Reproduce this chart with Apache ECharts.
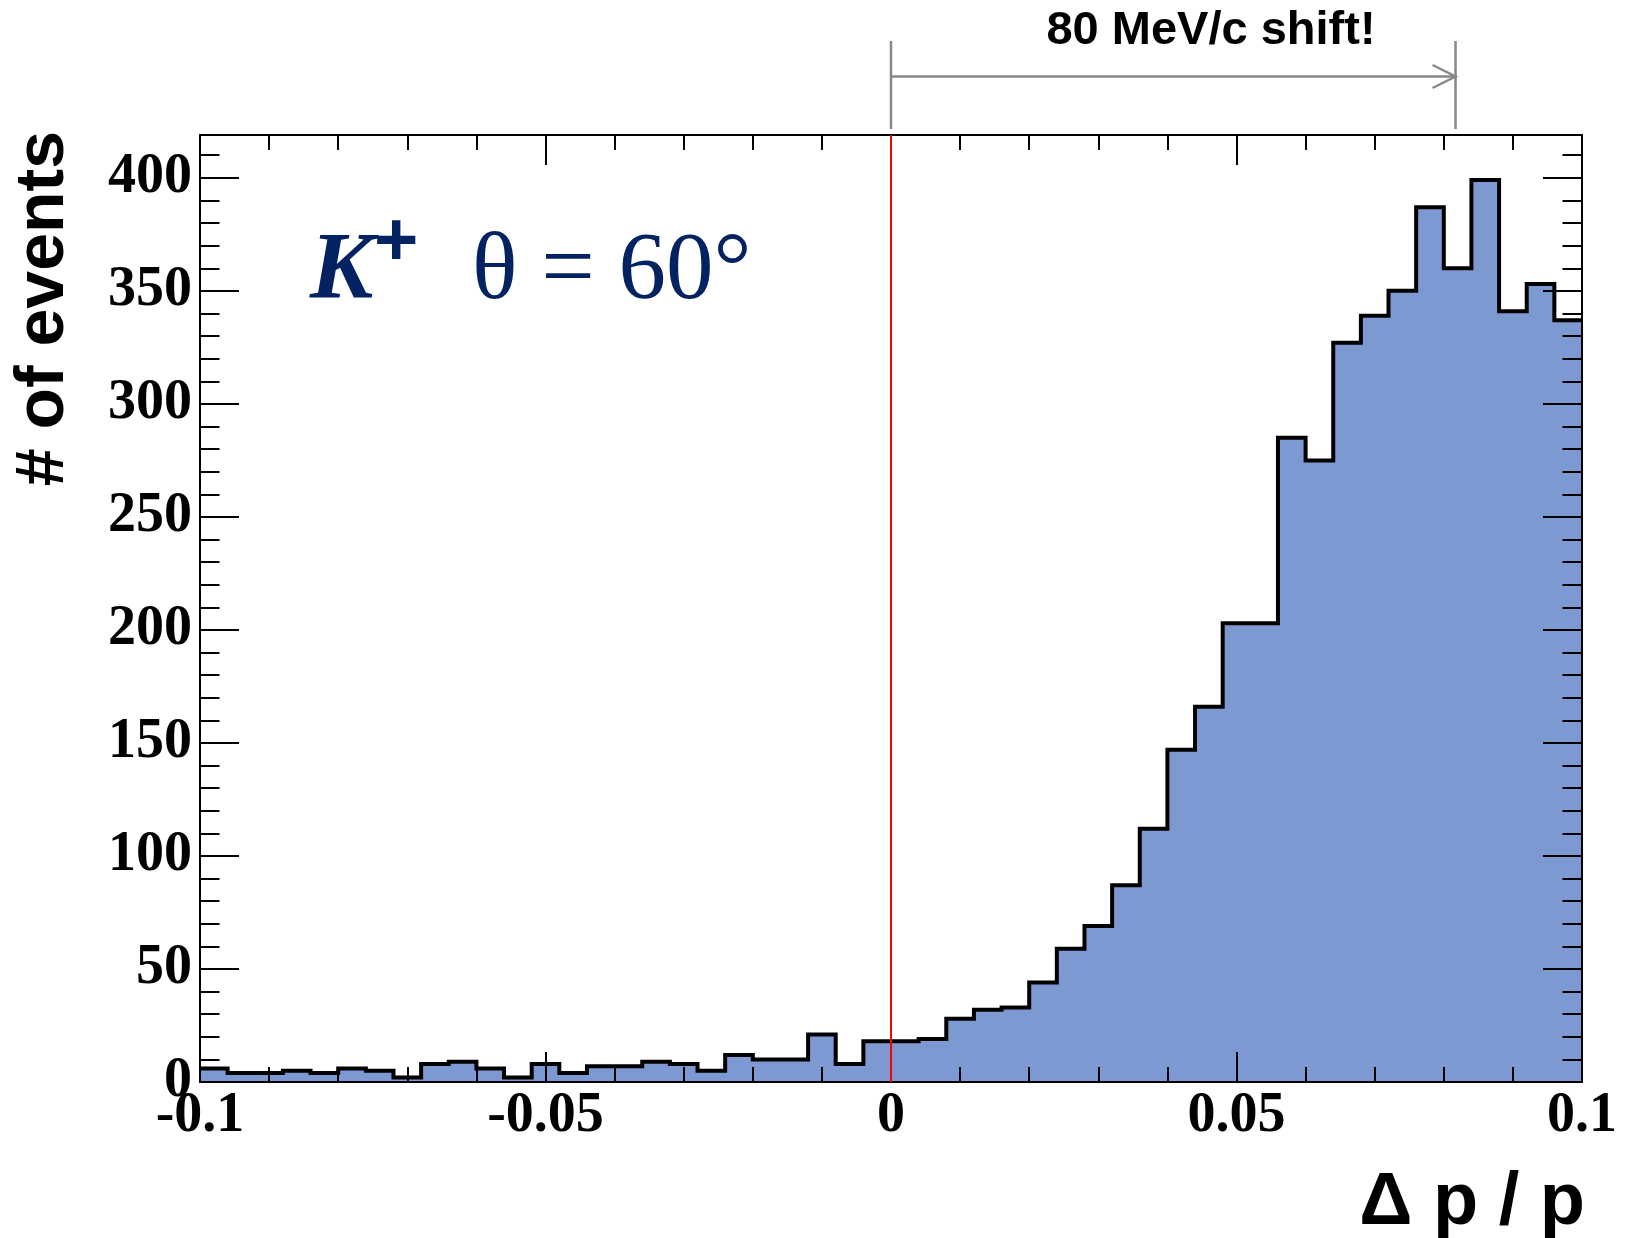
<!DOCTYPE html>
<html>
<head>
<meta charset="utf-8">
<script src="https://cdn.jsdelivr.net/npm/echarts@6/dist/echarts.min.js"></script>
<style>
html,body{margin:0;padding:0;background:#ffffff;}
#chart{width:1625px;height:1238px;}
</style>
</head>
<body>
<div id="chart"></div>
<script>
// ---- data ----
const binLowEdges = [-0.1,-0.096,-0.092,-0.088,-0.084,-0.08,-0.076,-0.072,-0.068,-0.064,
  -0.06,-0.056,-0.052,-0.048,-0.044,-0.04,-0.036,-0.032,-0.028,-0.024,
  -0.02,-0.016,-0.012,-0.008,-0.004,0,0.004,0.008,0.012,0.016,
  0.02,0.024,0.028,0.032,0.036,0.04,0.044,0.048,0.052,0.056,
  0.06,0.064,0.068,0.072,0.076,0.08,0.084,0.088,0.092,0.096];
const lastBinHighEdge = 0.1;
const eventCounts = [6,4,4,5,4,6,5,2,8,9,
  6,2,8,4,7,7,9,8,5,12,
  10,10,21,8,18,18,19,28,32,33,
  44,59,69,87,112,147,166,203,203,285,
  275,327,339,350,387,360,399,341,353,337];
const xTickLabels = [-0.1,-0.05,0,0.05,0.1];
const yTickLabels = [0,50,100,150,200,250,300,350,400];
const xRange = [-0.1, 0.1];
const yRange = [0, 418.95];
const zeroLine = 0;
const shiftArrow = [0, 0.0817];   // from x=0 to the shifted position
const titleText = '80 MeV/c shift!';
const yTitle = '# of events';
const xTitle = '\u0394 p / p';

// ---- build ----
const pts = binLowEdges.map((x, i) => [x, eventCounts[i]]);
pts.push([lastBinHighEdge, eventCounts[eventCounts.length - 1]]);

const chart = echarts.init(document.getElementById('chart'), null, {renderer: 'canvas'});

const labelFont = {fontFamily: 'Liberation Serif', fontWeight: 'bold', fontSize: 56, color: '#000'};
const black2 = {color: '#000', width: 2};

function xAx(pos, showLabel) {
  return {
    type: 'value', min: xRange[0], max: xRange[1],
    interval: xTickLabels[1] - xTickLabels[0],
    position: pos, z: 5,
    axisLine: {show: true, onZero: false, lineStyle: black2},
    axisTick: {show: true, inside: true, length: 30, lineStyle: black2},
    minorTick: {show: true, splitNumber: 5, length: 15, lineStyle: black2},
    splitLine: {show: false}, minorSplitLine: {show: false},
    axisLabel: Object.assign({show: showLabel, margin: 7}, labelFont)
  };
}
function yAx(pos, major, showLabel) {
  return {
    type: 'value', min: yRange[0], max: yRange[1],
    interval: major ? (yTickLabels[1] - yTickLabels[0]) : (yTickLabels[1] - yTickLabels[0]) / 5,
    position: pos, z: 5,
    axisLine: {show: major, onZero: false, lineStyle: black2},
    axisTick: {show: true, inside: true, length: major ? 39 : 19.5, lineStyle: black2},
    splitLine: {show: false},
    axisLabel: Object.assign({show: showLabel, margin: 8, showMaxLabel: false}, labelFont)
  };
}

chart.setOption({
  animation: false,
  backgroundColor: '#ffffff',
  grid: {left: 200, right: 43, top: 135, bottom: 156, containLabel: false},
  xAxis: [xAx('bottom', true), xAx('top', false)],
  yAxis: [yAx('left', true, true), yAx('left', false, false), yAx('right', true, false), yAx('right', false, false)],
  series: [{
    type: 'line',
    xAxisIndex: 0, yAxisIndex: 0,
    step: 'end',
    symbol: 'none',
    data: pts,
    z: 2,
    emphasis: {disabled: true},
    lineStyle: {color: '#000', width: 4, join: 'miter'},
    areaStyle: {color: '#7d99d1', opacity: 1, origin: 'start'}
  }]
});

// annotations positioned through the axis scales
const xa = chart.convertToPixel({xAxisIndex: 0}, shiftArrow[0]);
const xb = chart.convertToPixel({xAxisIndex: 0}, shiftArrow[1]);
const zx = chart.convertToPixel({xAxisIndex: 0}, zeroLine);
const yBot = chart.convertToPixel({yAxisIndex: 0}, yRange[0]);
const yTop = chart.convertToPixel({yAxisIndex: 0}, yRange[1]);
const gray = '#888888';
const navy = '#032262';
chart.setOption({
  graphic: [
    {type: 'line', z: 50, shape: {x1: zx, y1: yBot, x2: zx, y2: yTop}, style: {stroke: '#ff0000', lineWidth: 2}},
    {type: 'line', z: 100, shape: {x1: xa, y1: 41, x2: xa, y2: 129}, style: {stroke: gray, lineWidth: 2.5}},
    {type: 'line', z: 100, shape: {x1: xb, y1: 41, x2: xb, y2: 129}, style: {stroke: gray, lineWidth: 2.5}},
    {type: 'line', z: 100, shape: {x1: xa, y1: 76.5, x2: xb, y2: 76.5}, style: {stroke: gray, lineWidth: 2.5}},
    {type: 'polyline', z: 100, shape: {points: [[xb - 23, 65], [xb, 76.5], [xb - 23, 88]]}, style: {stroke: gray, lineWidth: 2.5, fill: null}},
    {type: 'text', z: 100, x: 1211, y: 31, style: {text: titleText, font: 'bold 47px "Liberation Sans", Arial, sans-serif', fill: '#000', align: 'center', verticalAlign: 'middle'}},
    {type: 'text', z: 100, x: 44, y: 131, rotation: Math.PI / 2, style: {text: yTitle, font: 'bold 68px "Liberation Sans", Arial, sans-serif', fill: '#000', align: 'right', verticalAlign: 'middle'}},
    {type: 'text', z: 100, x: 1585, y: 1204, style: {text: xTitle, font: 'bold 74px "Liberation Sans", Arial, sans-serif', fill: '#000', align: 'right', verticalAlign: 'middle'}},
    {type: 'text', z: 100, x: 310, y: 273, style: {text: 'K', font: 'italic bold 95px "Liberation Serif", serif', fill: navy, align: 'left', verticalAlign: 'middle'}},
    {type: 'text', z: 100, x: 374, y: 244, style: {text: '+', font: 'bold 76px "Liberation Sans", Arial, sans-serif', fill: navy, align: 'left', verticalAlign: 'middle'}},
    {type: 'text', z: 100, x: 472, y: 273, style: {text: '\u03b8 = 60\u00b0', font: '95px "Liberation Serif", serif', fill: navy, align: 'left', verticalAlign: 'middle'}}
  ]
});
</script>
</body>
</html>
